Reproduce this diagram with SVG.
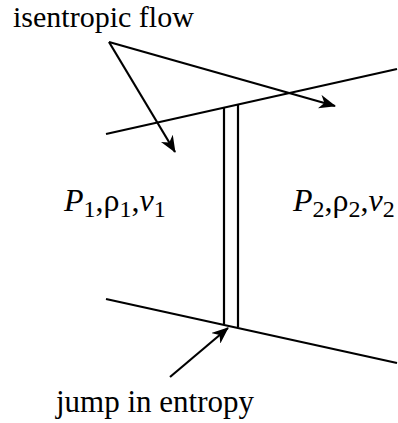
<svg xmlns="http://www.w3.org/2000/svg" width="398" height="423" viewBox="0 0 398 423">
<style>
.ln{stroke:#000;stroke-width:2.2;fill:none}
.ar{stroke:#000;stroke-width:2.2;fill:none;marker-end:url(#ah)}
text{font-family:'Liberation Serif','Times New Roman',Times,serif;fill:#000}
.t{font-size:31px}
.v{font-size:32px}
.s{font-size:24px}
.i{font-style:italic}
</style>
<defs>
<marker id="ah" markerWidth="18" markerHeight="14" refX="16" refY="7" orient="auto" markerUnits="userSpaceOnUse">
<path d="M0,0 L17,7 L0,14 L5,7 Z" fill="#000"/>
</marker>
</defs>
<g id="shock">
<line class="ln" x1="106" y1="134" x2="397" y2="69"/>
<line class="ln" x1="106" y1="299" x2="397" y2="363"/>
<line class="ln" x1="224" y1="107" x2="224" y2="324"/>
<line class="ln" x1="238" y1="104" x2="238" y2="327"/>
</g>
<g id="connectors">
<line class="ar" x1="109" y1="42" x2="335" y2="106"/>
<line class="ar" x1="109" y1="42" x2="175" y2="152"/>
<line class="ar" x1="170" y1="377" x2="228" y2="328"/>
</g>
<g id="label-isentropic"><text x="13" y="27" font-size="30">isentropic flow</text></g>
<g id="label-jump"><text class="t" x="56" y="412">jump in entropy</text></g>
<g id="state1"><text class="v" x="64" y="211"><tspan class="i">P</tspan><tspan class="s" dy="6">1</tspan><tspan dy="-6">,ρ</tspan><tspan class="s" dy="6">1</tspan><tspan dy="-6">,</tspan><tspan class="i">v</tspan><tspan class="s" dy="6">1</tspan></text></g>
<g id="state2"><text class="v" x="293" y="211"><tspan class="i">P</tspan><tspan class="s" dy="6">2</tspan><tspan dy="-6">,ρ</tspan><tspan class="s" dy="6">2</tspan><tspan dy="-6">,</tspan><tspan class="i">v</tspan><tspan class="s" dy="6">2</tspan></text></g>
</svg>
